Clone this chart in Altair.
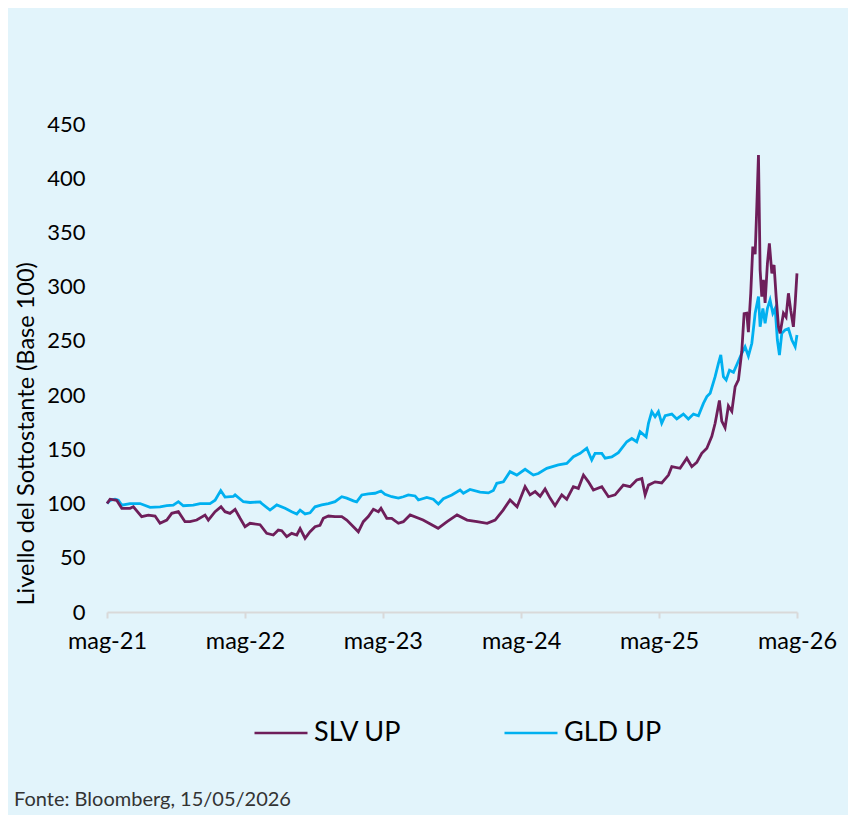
import altair as alt
import pandas as pd

# ---- data (decimal years, Base 100 levels) ----
gld_t = [2021.367, 2021.389, 2021.425, 2021.449, 2021.474, 2021.534, 2021.606, 2021.679, 2021.751, 2021.800,
         2021.847, 2021.884, 2021.920, 2021.992, 2022.041, 2022.113, 2022.150, 2022.191, 2022.222, 2022.282,
         2022.295, 2022.355, 2022.403, 2022.476, 2022.488, 2022.548, 2022.597, 2022.657, 2022.705, 2022.742,
         2022.766, 2022.802, 2022.838, 2022.874, 2022.923, 2022.971, 2023.019, 2023.068, 2023.104, 2023.152,
         2023.176, 2023.213, 2023.260, 2023.309, 2023.352, 2023.381, 2023.430, 2023.478, 2023.514, 2023.550,
         2023.599, 2023.623, 2023.684, 2023.731, 2023.768, 2023.804, 2023.865, 2023.925, 2023.949, 2023.997,
         2024.070, 2024.130, 2024.166, 2024.191, 2024.239, 2024.287, 2024.336, 2024.396, 2024.456, 2024.492,
         2024.553, 2024.637, 2024.698, 2024.746, 2024.795, 2024.843, 2024.879, 2024.903, 2024.952, 2024.976,
         2025.024, 2025.072, 2025.133, 2025.169, 2025.205, 2025.229, 2025.273, 2025.290, 2025.314, 2025.338,
         2025.362, 2025.386, 2025.411, 2025.459, 2025.495, 2025.543, 2025.579, 2025.616, 2025.652, 2025.688,
         2025.713, 2025.737, 2025.773, 2025.797, 2025.814, 2025.833, 2025.853, 2025.877, 2025.906, 2025.930,
         2025.966, 2025.990, 2026.014, 2026.039, 2026.063, 2026.087, 2026.099, 2026.119, 2026.135, 2026.152,
         2026.171, 2026.191, 2026.208, 2026.224, 2026.239, 2026.256, 2026.280, 2026.304, 2026.329, 2026.353,
         2026.366]
gld_v = [100, 103, 104, 103, 98.5, 100, 100, 96.5, 97, 98,
         98.5, 101.7, 98, 98.5, 100, 100, 103, 112, 106, 106.5,
         108, 101.7, 101, 101.5, 100, 94, 98.7, 95.6, 92.5, 90.4,
         94, 90.4, 91.5, 97, 98.7, 100, 101.7, 106.3, 105, 102.5,
         101.5, 107.9, 108.9, 109.5, 111.6, 108.6, 106.3, 105, 106.3, 108,
         107, 103.3, 105.6, 104, 99.6, 104.5, 107.9, 112.5, 109.5, 113,
         110.6, 109.8, 112, 118.7, 120, 129.4, 126.3, 131.6, 126.3, 127.7,
         132.5, 135.6, 137, 143.2, 146.3, 151, 140.2, 146.3, 146.3, 141.8,
         143, 146.9, 157, 160, 157, 166.3, 161.5, 174, 184.7, 180,
         184.7, 174, 181, 182.5, 178, 182.5, 178, 182.5, 181, 192.4,
         198.6, 201.7, 217, 229.3, 237, 217, 214, 223, 221, 228,
         238.6, 244.6, 236, 247.8, 275.5, 290.8, 263, 280, 266.2, 280,
         287.7, 275.5, 280, 250.8, 237, 257, 260, 261.3, 250.8, 244.6,
         255.4]

slv_t = [2021.367, 2021.389, 2021.437, 2021.474, 2021.534, 2021.558, 2021.618, 2021.666, 2021.715, 2021.751,
         2021.800, 2021.836, 2021.884, 2021.932, 2021.968, 2022.017, 2022.077, 2022.101, 2022.150, 2022.193,
         2022.222, 2022.258, 2022.295, 2022.331, 2022.367, 2022.403, 2022.476, 2022.524, 2022.572, 2022.608,
         2022.633, 2022.669, 2022.705, 2022.742, 2022.766, 2022.802, 2022.838, 2022.874, 2022.910, 2022.934,
         2022.971, 2023.019, 2023.068, 2023.104, 2023.152, 2023.188, 2023.224, 2023.260, 2023.297, 2023.333,
         2023.352, 2023.394, 2023.430, 2023.478, 2023.514, 2023.563, 2023.657, 2023.766, 2023.831, 2023.903,
         2023.976, 2024.048, 2024.121, 2024.179, 2024.237, 2024.287, 2024.338, 2024.396, 2024.432, 2024.469,
         2024.505, 2024.541, 2024.577, 2024.613, 2024.662, 2024.698, 2024.746, 2024.782, 2024.819, 2024.855,
         2024.891, 2024.952, 2025.000, 2025.048, 2025.108, 2025.157, 2025.205, 2025.242, 2025.266, 2025.290,
         2025.338, 2025.386, 2025.435, 2025.459, 2025.519, 2025.568, 2025.604, 2025.640, 2025.676, 2025.713,
         2025.749, 2025.773, 2025.804, 2025.821, 2025.845, 2025.869, 2025.894, 2025.918, 2025.942, 2025.966,
         2025.983, 2026.002, 2026.014, 2026.031, 2026.046, 2026.063, 2026.075, 2026.087, 2026.099, 2026.111,
         2026.123, 2026.135, 2026.152, 2026.166, 2026.184, 2026.200, 2026.215, 2026.232, 2026.244, 2026.268,
         2026.287, 2026.304, 2026.321, 2026.340, 2026.353, 2026.366]
slv_v = [100, 104, 103, 95.6, 95.6, 97, 87.9, 89.4, 88.5, 81.8,
         84.8, 91, 92.5, 83.3, 83.3, 84.8, 89.4, 84.8, 92.5, 97,
         92.5, 91, 94.6, 86.4, 78.7, 81.8, 80.5, 72.6, 71, 75.6,
         75, 69.4, 72.5, 71, 77, 68, 74, 78.7, 80, 86.4,
         88.5, 88, 88, 84.8, 78.7, 74, 83.3, 88, 94.7, 92.5,
         95.6, 86.4, 86.4, 81.8, 83.3, 89.5, 84.8, 77.2, 83.3, 89.5,
         84.8, 83.3, 81.8, 84.8, 94, 103.3, 97, 115.6, 108, 111,
         106.7, 113.4, 105, 98, 108, 104, 115.6, 114, 126.3, 120,
         112.5, 115.6, 106.3, 108, 117, 115.6, 121.7, 123, 108, 117,
         120, 119, 126.3, 134, 132.5, 141.8, 134, 138, 146.3, 151,
         162, 174, 195, 176, 170, 190, 185, 207.8, 214, 240,
         275, 275.5, 258, 293.9, 336.9, 330, 373.8, 421.4, 315.4, 290.8,
         306.2, 285, 321.6, 340, 312.3, 320, 290.8, 263, 257, 275.5,
         272, 293.9, 278, 263, 285, 312.3]

series_names = ["SLV UP", "GLD UP"]
series_colors = ["#6E1E5A", "#00B0F0"]
tick_years = [2021, 2022, 2023, 2024, 2025, 2026]
y_ticks = [0, 50, 100, 150, 200, 250, 300, 350, 400, 450]
y_title = "Livello del Sottostante (Base 100)"
source_note = "Fonte: Bloomberg, 15/05/2026"


def to_dates(ts):
    base = pd.Timestamp("2021-01-01")
    return [(base + pd.to_timedelta((t - 2021) * 365.25, unit="D")).strftime("%Y-%m-%dT%H:%M:%S") for t in ts]


df_gld = pd.DataFrame({"date": to_dates(gld_t), "value": gld_v, "series": "GLD UP"})
df_slv = pd.DataFrame({"date": to_dates(slv_t), "value": slv_v, "series": "SLV UP"})

FONT = "Lato"

x_enc = alt.X(
    "date:T",
    scale=alt.Scale(domain=[alt.DateTime(year=2021, month=5, date=15),
                            alt.DateTime(year=2026, month=5, date=15)]),
    axis=alt.Axis(
        values=[alt.DateTime(year=y, month=5, date=15) for y in tick_years],
        labelExpr="'mag-' + timeFormat(datum.value, '%y')",
        title=None, grid=False, labelFlush=False, labelOverlap=False,
        domainColor="#D9D9D9", domainWidth=2,
        tickColor="#D9D9D9", tickWidth=2, tickSize=6,
        labelFont=FONT, labelFontSize=23.5, labelColor="black", labelPadding=11,
    ),
)
y_enc = alt.Y(
    "value:Q",
    scale=alt.Scale(domain=[0, 450], nice=False),
    axis=alt.Axis(
        values=y_ticks, title=y_title, domain=False, ticks=False, grid=False,
        labelFont=FONT, labelFontSize=22, labelColor="black", labelPadding=22,
        titleFont=FONT, titleFontSize=23.5, titleFontWeight="normal", titleColor="black",
        titleAngle=270, titleAlign="left", titleBaseline="middle", titleX=-81, titleY=481,
    ),
)
color_enc = alt.Color(
    "series:N",
    scale=alt.Scale(domain=series_names, range=series_colors),
    legend=alt.Legend(
        title=None, orient="none", legendX=146, legendY=581, direction="horizontal",
        symbolType="stroke", symbolSize=2809, symbolStrokeWidth=2.5,
        labelFont=FONT, labelFontSize=27, labelColor="black", labelOffset=5,
        columnPadding=97, padding=0, labelLimit=0,
    ),
)

gld = alt.Chart(df_gld).mark_line(strokeWidth=2.8).encode(x=x_enc, y=y_enc, color=color_enc)
slv = alt.Chart(df_slv).mark_line(strokeWidth=2.8).encode(x=x_enc, y=y_enc, color=color_enc)
note = alt.Chart(pd.DataFrame({"t": [source_note]})).mark_text(
    align="left", baseline="middle", font=FONT, fontSize=20, color="#333333"
).encode(text="t:N", x=alt.value(-93), y=alt.value(676))

chart = alt.layer(gld, slv, note).properties(
    width=690, height=488,
    autosize=alt.AutoSizeParams(type="none"),
    padding={"left": 99, "top": 116, "right": 51, "bottom": 203},
    background="#E2F4FB",
).configure_view(stroke=None)

chart.save("out.html", embed_options={"renderer": "svg", "actions": False})
